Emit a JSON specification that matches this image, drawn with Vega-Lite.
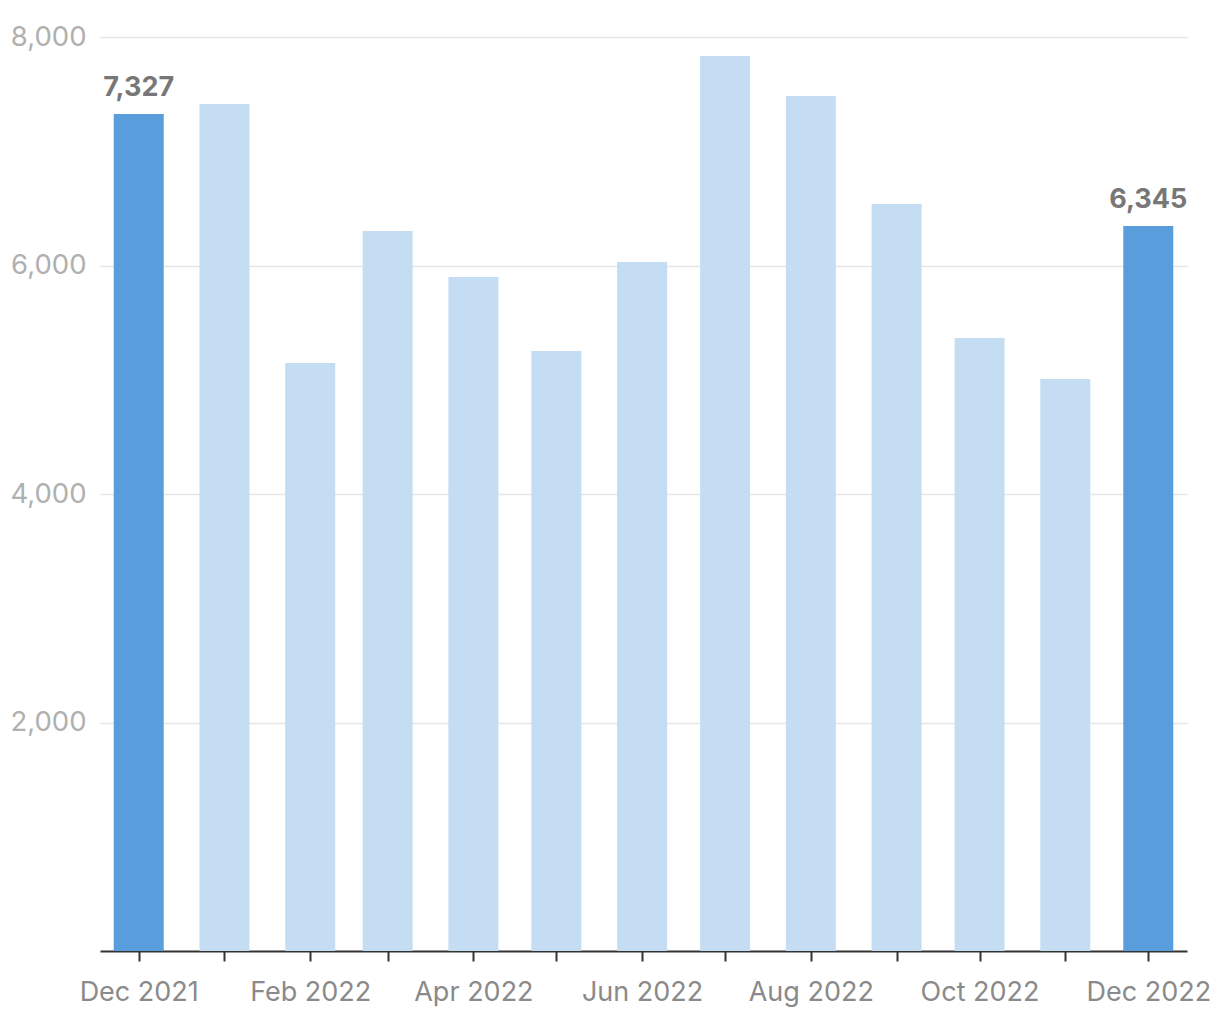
{
  "$schema": "https://vega.github.io/schema/vega-lite/v6.json",
  "autosize": {"type": "none"},
  "width": 1087,
  "height": 914,
  "padding": {"left": 100, "top": 37, "right": 33, "bottom": 69},
  "background": "white",
  "config": {"view": {"stroke": null}, "font": "Inter"},
  "data": {"values": [
    {"month": "2021-12-01", "value": 7327, "kind": "end"},
    {"month": "2022-01-01", "value": 7413, "kind": "mid"},
    {"month": "2022-02-01", "value": 5147, "kind": "mid"},
    {"month": "2022-03-01", "value": 6302, "kind": "mid"},
    {"month": "2022-04-01", "value": 5899, "kind": "mid"},
    {"month": "2022-05-01", "value": 5252, "kind": "mid"},
    {"month": "2022-06-01", "value": 6031, "kind": "mid"},
    {"month": "2022-07-01", "value": 7834, "kind": "mid"},
    {"month": "2022-08-01", "value": 7484, "kind": "mid"},
    {"month": "2022-09-01", "value": 6538, "kind": "mid"},
    {"month": "2022-10-01", "value": 5365, "kind": "mid"},
    {"month": "2022-11-01", "value": 5007, "kind": "mid"},
    {"month": "2022-12-01", "value": 6345, "kind": "end"}
  ]},
  "encoding": {
    "x": {
      "field": "month", "type": "temporal",
      "scale": {"type": "utc", "domain": [{"year": 2021, "month": 11, "date": 17, "utc": true}, {"year": 2022, "month": 12, "date": 15, "utc": true}], "nice": false, "padding": 0},
      "axis": {
        "title": null,
        "tickCount": {"interval": "month", "step": 1},
        "labelExpr": "utcmonth(datum.value) % 2 == 1 ? utcFormat(datum.value, '%b %Y') : ''",
        "labelOverlap": false,
        "labelFlush": false,
        "labelFontSize": 27,
        "labelColor": "#8a8a8a",
        "labelPadding": 18,
        "domainColor": "#333333",
        "domainWidth": 2,
        "tickColor": "#333333",
        "tickWidth": 2,
        "tickSize": 10,
        "grid": false
      }
    },
    "y": {
      "field": "value", "type": "quantitative",
      "scale": {"domain": [0, 8000], "nice": false},
      "axis": {
        "title": null,
        "values": [2000, 4000, 6000, 8000],
        "format": ",d",
        "domain": false,
        "ticks": false,
        "labelFontSize": 27.5,
        "labelColor": "#b0b0b0",
        "labelPadding": 14,
        "gridColor": "#e6e6e6",
        "gridWidth": 1.5
      }
    }
  },
  "layer": [
    {
      "mark": {"type": "bar", "width": 50},
      "encoding": {
        "color": {
          "field": "kind", "type": "nominal",
          "scale": {"domain": ["end", "mid"], "range": ["#5a9ddc", "#c5ddf2"]},
          "legend": null
        }
      }
    },
    {
      "transform": [{"filter": "datum.kind == 'end'"}],
      "mark": {"type": "text", "dy": -26, "fontSize": 27, "fontWeight": "bold", "color": "#777777"},
      "encoding": {
        "text": {"field": "value", "type": "quantitative", "format": ",d"}
      }
    }
  ]
}
